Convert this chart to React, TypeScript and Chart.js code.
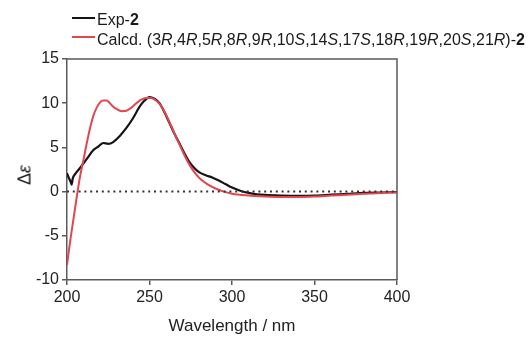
import React, { useEffect, useRef } from "react";
import { Chart, registerables } from "chart.js";

Chart.register(...registerables);

const expWavelengths = [200, 201, 202, 202.8, 203.5, 205, 208, 212, 216, 219, 222, 225, 228, 232, 236, 240, 244, 247, 250, 253, 256, 259, 262, 265, 268, 271, 274, 277, 280, 284, 288, 292, 296, 300, 305, 310, 315, 320, 330, 340, 350, 360, 370, 380, 390, 400];
const expValues = [2.1, 1.6, 1.2, 0.8, 1.5, 2.0, 2.7, 3.7, 4.7, 5.1, 5.5, 5.4, 5.6, 6.3, 7.2, 8.3, 9.6, 10.3, 10.7, 10.5, 10.0, 9.0, 7.8, 6.6, 5.5, 4.4, 3.4, 2.7, 2.2, 1.85, 1.6, 1.25, 0.85, 0.45, 0.1, -0.15, -0.3, -0.38, -0.45, -0.48, -0.45, -0.35, -0.25, -0.15, -0.1, -0.05];

const calcWavelengths = [200, 202, 204, 206, 208, 210, 212, 214, 216, 218, 220, 222, 224, 226, 228, 230, 233, 236, 239, 242, 245, 248, 251, 254, 257, 260, 263, 266, 269, 272, 275, 278, 281, 285, 290, 295, 300, 310, 320, 330, 340, 350, 360, 370, 380, 390, 400];
const calcValues = [-8.3, -5.5, -3.0, -0.5, 1.8, 3.6, 5.5, 7.2, 8.6, 9.5, 10.1, 10.3, 10.3, 10.0, 9.6, 9.35, 9.1, 9.15, 9.5, 10.0, 10.4, 10.6, 10.6, 10.3, 9.7, 8.7, 7.5, 6.2, 5.0, 3.8, 2.8, 2.0, 1.4, 0.85, 0.35, 0.0, -0.25, -0.45, -0.55, -0.6, -0.6, -0.55, -0.45, -0.35, -0.25, -0.15, -0.1];

const zeroLineX = [200, 400];
const zeroLineY = [0, 0];

const xTicks = [200, 250, 300, 350, 400];
const yTicks = [-10, -5, 0, 5, 10, 15];

const FONT = "'Liberation Sans', Arial, sans-serif";
const AXIS_COLOR = "#5a5a5a";

const framePlugin = {
  id: "frame",
  afterDraw(chart: any) {
    const { ctx, chartArea } = chart;
    ctx.save();
    ctx.strokeStyle = AXIS_COLOR;
    ctx.lineWidth = 1.5;
    ctx.beginPath();
    ctx.moveTo(chartArea.left, chartArea.top);
    ctx.lineTo(chartArea.right, chartArea.top);
    ctx.lineTo(chartArea.right, chartArea.bottom);
    ctx.stroke();
    ctx.restore();
  },
};

export default function App() {
  const canvasRef = useRef<HTMLCanvasElement | null>(null);

  useEffect(() => {
    if (!canvasRef.current) return;
    const chart = new Chart(canvasRef.current, {
      type: "line",
      data: {
        datasets: [
          {
            label: "zero",
            data: zeroLineX.map((x, i) => ({ x, y: zeroLineY[i] })),
            borderColor: "#333333",
            borderWidth: 2,
            borderDash: [2, 3.8],
            pointRadius: 0,
            tension: 0,
          },
          {
            label: "Calcd.",
            data: calcWavelengths.map((x, i) => ({ x, y: calcValues[i] })),
            borderColor: "#e5454f",
            borderWidth: 2,
            pointRadius: 0,
            tension: 0.4,
            cubicInterpolationMode: "monotone",
          },
          {
            label: "Exp-2",
            data: expWavelengths.map((x, i) => ({ x, y: expValues[i] })),
            borderColor: "#151515",
            borderWidth: 2.2,
            pointRadius: 0,
            tension: 0.4,
            cubicInterpolationMode: "monotone",
          },
        ],
      },
      options: {
        animation: false,
        responsive: false,
        maintainAspectRatio: false,
        layout: { padding: { left: 0, right: 134, top: 59, bottom: 0 } },
        plugins: {
          legend: { display: false },
          tooltip: { enabled: false },
        },
        scales: {
          x: {
            type: "linear",
            min: 200,
            max: 400,
            afterBuildTicks: (scale: any) => {
              scale.ticks = xTicks.map((v) => ({ value: v }));
            },
            afterFit: (scale: any) => {
              scale.height = 57;
            },
            grid: {
              drawOnChartArea: false,
              drawTicks: true,
              tickLength: 5,
              color: AXIS_COLOR,
              lineWidth: 1.5,
            },
            border: { display: true, color: AXIS_COLOR, width: 1.5 },
            ticks: {
              color: "#222",
              font: { family: FONT, size: 16 },
              padding: 3,
              maxRotation: 0,
            },
            title: {
              display: true,
              text: "Wavelength / nm",
              color: "#222",
              font: { family: FONT, size: 17 },
              padding: { top: 7, bottom: 0 },
            },
          },
          y: {
            type: "linear",
            min: -10,
            max: 15,
            afterBuildTicks: (scale: any) => {
              scale.ticks = yTicks.map((v) => ({ value: v }));
            },
            afterFit: (scale: any) => {
              scale.width = 67;
            },
            grid: {
              drawOnChartArea: false,
              drawTicks: true,
              tickLength: 5,
              color: AXIS_COLOR,
              lineWidth: 1.5,
            },
            border: { display: true, color: AXIS_COLOR, width: 1.5 },
            ticks: {
              color: "#222",
              font: { family: FONT, size: 16 },
              padding: 3,
            },
          },
        },
      },
      plugins: [framePlugin],
    });
    return () => chart.destroy();
  }, []);

  const legendText: React.CSSProperties = {
    position: "absolute",
    left: 97,
    fontFamily: FONT,
    fontSize: 16,
    color: "#1a1a1a",
    whiteSpace: "nowrap",
    lineHeight: "18px",
  };

  return (
    <div style={{ position: "fixed", left: 0, top: 0, width: 531, height: 337, background: "#fff" }}>
      <canvas ref={canvasRef} width={531} height={337} style={{ position: "absolute", left: 0, top: 0 }} />
      <div style={{ position: "absolute", left: 72, top: 17, width: 23, height: 2, background: "#151515" }} />
      <div style={{ ...legendText, top: 11 }}>
        Exp-<b>2</b>
      </div>
      <div style={{ position: "absolute", left: 72, top: 36, width: 23, height: 2, background: "#e5454f" }} />
      <div style={{ ...legendText, top: 31 }}>
        Calcd. (3<i>R</i>,4<i>R</i>,5<i>R</i>,8<i>R</i>,9<i>R</i>,10<i>S</i>,14<i>S</i>,17<i>S</i>,18<i>R</i>,19<i>R</i>,20<i>S</i>,21<i>R</i>)-<b>2</b>
      </div>
      <div
        style={{
          position: "absolute",
          left: 25,
          top: 175,
          transform: "translate(-50%, -50%) rotate(-90deg)",
          fontFamily: FONT,
          fontSize: 18,
          color: "#1a1a1a",
          whiteSpace: "nowrap",
        }}
      >
        Δ<i>ε</i>
      </div>
    </div>
  );
}
